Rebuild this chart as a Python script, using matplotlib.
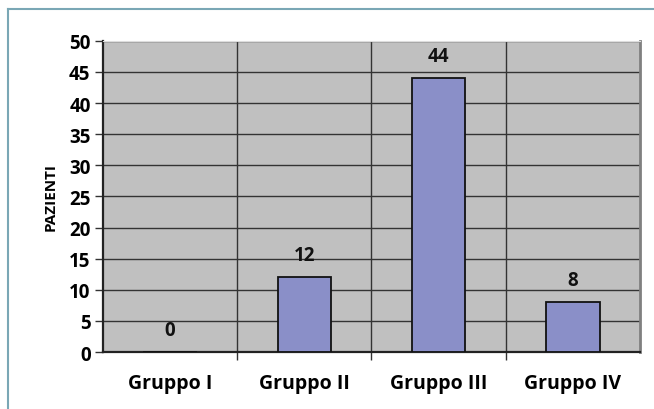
import numpy as np
import matplotlib.pyplot as plt
from matplotlib.lines import Line2D

gruppi = ['Gruppo I', 'Gruppo II', 'Gruppo III', 'Gruppo IV']
pazienti = [0, 12, 44, 8]
y_ticks = list(range(0, 51, 5))

plt.rcParams['font.family'] = ['Open Sans', 'DejaVu Sans']

fig = plt.figure(figsize=(6.54, 4.1), dpi=100, facecolor='w')
ax = fig.add_axes([0.1575, 0.139, 0.821, 0.759])
ax.set_facecolor('#c0c0c0')

x = np.arange(len(gruppi))
ax.bar(x, pazienti, width=0.4, color='#8a8fc8', edgecolor='#111111', linewidth=1.3, zorder=3)

for xi, v in zip(x, pazienti):
    ax.annotate(str(v), (xi, v), xytext=(0, 9), textcoords='offset points',
                ha='center', va='bottom', fontsize=13.5, fontweight='bold', color='#111111')

ax.set_xlim(-0.5, len(gruppi) - 0.5)
ax.set_ylim(0, 50)
ax.set_yticks(y_ticks)
ax.set_yticklabels([str(t) for t in y_ticks], fontsize=13.5, fontweight='bold')

# category labels in the middle, ticks on the boundaries
ax.set_xticks(x)
ax.set_xticklabels(gruppi, fontsize=14, fontweight='bold')
ax.tick_params(axis='x', which='major', length=0, pad=15)
ax.set_xticks(np.arange(0.5, len(gruppi) - 0.5, 1), minor=True)
ax.tick_params(axis='x', which='minor', length=6, width=1, color='#333333')
ax.tick_params(axis='y', length=6, width=1, color='#333333', pad=3)

ax.grid(True, axis='y', color='#333333', linewidth=1, zorder=1)
for b in np.arange(0.5, len(gruppi) - 0.5, 1):
    ax.axvline(b, color='#333333', linewidth=1, zorder=1)
ax.set_axisbelow(True)

ax.spines['left'].set_color('#222222')
ax.spines['left'].set_linewidth(1.6)
ax.spines['bottom'].set_color('#222222')
ax.spines['bottom'].set_linewidth(1.6)
ax.spines['top'].set_color('#dddddd')
ax.spines['right'].set_color('#808080')
ax.spines['right'].set_linewidth(2)

ax.set_ylabel('PAZIENTI', fontsize=11, fontweight='bold', labelpad=8)

# frame around the figure (only top and left visible)
fig.add_artist(Line2D([8 / 654, 8 / 654], [0, 1 - 10 / 410], color='#7aa7b5', linewidth=1.5))
fig.add_artist(Line2D([8 / 654, 1], [1 - 10 / 410, 1 - 10 / 410], color='#7aa7b5', linewidth=1.5))

plt.savefig('out.png', dpi=100, facecolor='w')
